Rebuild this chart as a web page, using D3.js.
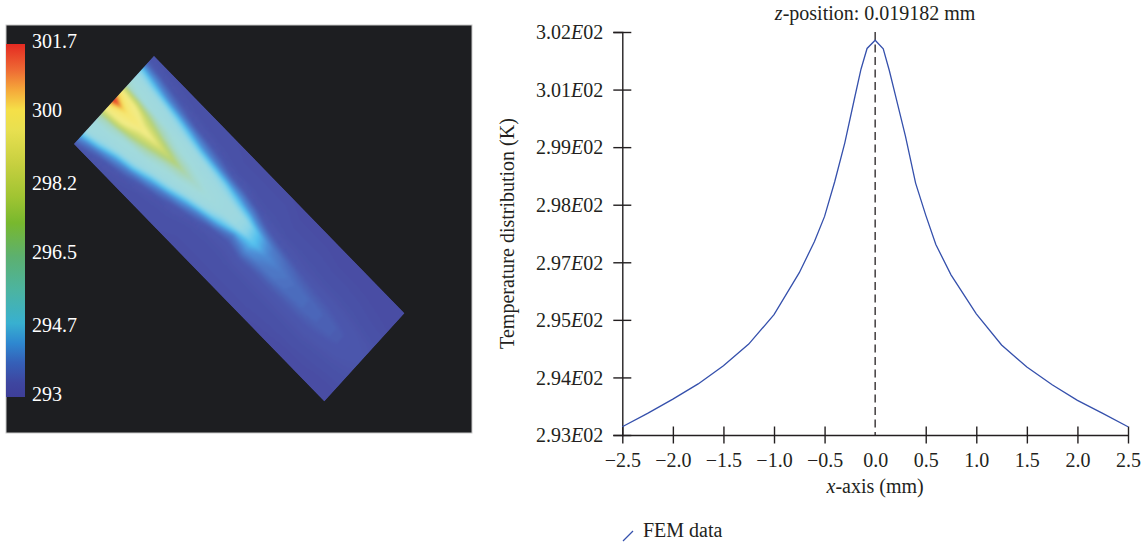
<!DOCTYPE html>
<meta charset="utf-8">
<body style="margin:0;background:#fff;">
<svg width="1146" height="544"></svg>
<script src="https://d3js.org/d3.v7.min.js"></script>
<script>

// ---------- line chart data (FEM profile along x at fixed z) ----------
var xPos  = [-2.5, -2.25, -2.0, -1.75, -1.5, -1.25, -1.0, -0.75, -0.6, -0.5, -0.4, -0.3, -0.2, -0.14, -0.08, 0,
             0.08, 0.14, 0.2, 0.3, 0.4, 0.5, 0.6, 0.75, 1.0, 1.25, 1.5, 1.75, 2.0, 2.25, 2.5];
var tempK = [292.99, 293.30, 293.63, 293.98, 294.40, 294.90, 295.58, 296.55, 297.27, 297.85, 298.65, 299.55, 300.62, 301.25, 301.73, 301.92,
             301.72, 301.22, 300.65, 299.70, 298.62, 297.88, 297.20, 296.50, 295.60, 294.88, 294.37, 293.96, 293.60, 293.30, 292.99];
var xTicks = [-2.5, -2.0, -1.5, -1.0, -0.5, 0, 0.5, 1.0, 1.5, 2.0, 2.5];
var yTicks = [292.8, 294.13, 295.46, 296.79, 298.12, 299.45, 300.78, 302.11];
var yTickLabels = ["2.93", "2.94", "2.95", "2.97", "2.98", "2.99", "3.01", "3.02"];
var zPosition = "0.019182";

// ---------- colour bar ----------
var barTicks  = [293, 294.7, 296.5, 298.2, 300, 301.7];
var barStops  = [293.0, 293.35, 293.85, 294.33, 294.82, 295.64, 296.45, 297.29, 297.93, 298.77, 299.58, 300.07, 300.57, 301.06, 301.7];
var barColors = ["#3e3e98", "#3e46a0", "#3560b8", "#2e88d0", "#38b0d0", "#4cb4a0", "#5cb070", "#78b82e",
                 "#a0c432", "#c8d040", "#e8e050", "#f5e048", "#f5a83a", "#ee6a34", "#e42a22"];

// ---------- heat map (rendered look) ----------
var heatStops  = [293.2, 293.7, 294.2, 294.45, 294.75, 295.0, 295.5, 296.2, 297.0, 298.0, 299.0, 300.0, 300.6, 301.0, 301.7];
var heatColors = ["#4a4ea4", "#4b58ae", "#4f90d8", "#52c0ee", "#8ad4e8", "#9ed8e0", "#a2dadc", "#a8d6bc",
                  "#b4d27a", "#d2dc6e", "#f2ec88", "#f6e670", "#f4d050", "#ee7a38", "#e02424"];
// rows: along the sample from the heated edge (every 20 px), columns: across (13 samples)
var heatGrid = [
  [293.45, 293.8, 294.7, 295.3, 296.0, 300.0, 301.7, 299.6, 296.5, 295.3, 295.2, 294.3, 293.65],
  [293.4, 293.7, 294.4, 295.2, 295.6, 299.0, 300.0, 299.0, 296.0, 295.3, 294.8, 293.9, 293.45],
  [293.35, 293.55, 294.1, 295.05, 295.4, 297.4, 299.4, 297.6, 295.6, 295.2, 294.3, 293.65, 293.4],
  [293.3, 293.45, 293.9, 294.8, 295.3, 296.4, 298.6, 296.6, 295.4, 294.9, 294.0, 293.5, 293.35],
  [293.3, 293.4, 293.7, 294.5, 295.3, 295.7, 297.4, 295.8, 295.25, 294.4, 293.7, 293.4, 293.3],
  [293.3, 293.35, 293.6, 294.2, 295.1, 295.5, 296.5, 295.5, 294.9, 294.0, 293.5, 293.35, 293.3],
  [293.3, 293.3, 293.5, 294.0, 294.9, 295.3, 295.8, 295.3, 294.4, 293.7, 293.45, 293.3, 293.3],
  [293.25, 293.3, 293.4, 293.8, 294.7, 295.2, 295.4, 294.9, 294.0, 293.5, 293.35, 293.3, 293.25],
  [293.25, 293.3, 293.4, 293.7, 294.4, 295.1, 295.1, 294.5, 293.7, 293.45, 293.35, 293.3, 293.25],
  [293.25, 293.3, 293.35, 293.5, 294.1, 294.9, 294.9, 294.0, 293.6, 293.45, 293.35, 293.3, 293.25],
  [293.25, 293.3, 293.35, 293.45, 293.75, 294.4, 294.5, 294.2, 293.75, 293.5, 293.35, 293.3, 293.25],
  [293.2, 293.25, 293.3, 293.4, 293.6, 294.0, 294.15, 294.0, 293.7, 293.5, 293.35, 293.3, 293.25],
  [293.2, 293.25, 293.3, 293.4, 293.55, 293.85, 294.0, 293.95, 293.7, 293.5, 293.35, 293.3, 293.25],
  [293.2, 293.25, 293.3, 293.38, 293.5, 293.75, 293.9, 293.88, 293.7, 293.5, 293.35, 293.28, 293.22],
  [293.2, 293.22, 293.28, 293.35, 293.48, 293.7, 293.85, 293.85, 293.7, 293.5, 293.35, 293.27, 293.2],
  [293.2, 293.22, 293.28, 293.35, 293.48, 293.68, 293.8, 293.8, 293.68, 293.5, 293.35, 293.25, 293.2],
  [293.2, 293.22, 293.27, 293.33, 293.45, 293.62, 293.75, 293.75, 293.62, 293.45, 293.32, 293.25, 293.2],
  [293.2, 293.2, 293.25, 293.3, 293.4, 293.55, 293.65, 293.65, 293.55, 293.42, 293.3, 293.22, 293.2],
  [293.2, 293.2, 293.22, 293.28, 293.35, 293.48, 293.55, 293.55, 293.48, 293.38, 293.28, 293.22, 293.2]
];

var serif = "'Liberation Serif', 'DejaVu Serif', serif";
var svg = d3.select("svg");
var defs = svg.append("defs");

// ================= left panel =================
var panel = svg.append("g");
panel.append("rect")
     .attr("x", 6).attr("y", 25).attr("width", 466).attr("height", 408)
     .attr("fill", "#1d1e21")
     .attr("stroke", "#c9c9c9").attr("stroke-width", 1);

// colour bar
var barY = d3.scaleLinear().domain([293, 301.7]).range([397, 44]);
var grad = defs.append("linearGradient").attr("id", "barGrad")
               .attr("x1", 0).attr("y1", 1).attr("x2", 0).attr("y2", 0);
barStops.forEach(function(v, i) {
  grad.append("stop")
      .attr("offset", (v - 293) / (301.7 - 293))
      .attr("stop-color", barColors[i]);
});
panel.append("rect")
     .attr("x", 6).attr("y", barY(301.7)).attr("width", 19)
     .attr("height", barY(293) - barY(301.7))
     .attr("fill", "url(#barGrad)");
panel.selectAll(".barlab").data(barTicks).enter().append("text")
     .attr("x", 32).attr("y", function(d) { return barY(d) - 3; })
     .attr("dy", "0.35em")
     .attr("fill", "#fff")
     .style("font-family", serif).style("font-size", "20px")
     .text(function(d) { return d; });

// heat map on the tilted sample
var nCols = heatGrid[0].length, nRows = heatGrid.length;
var sampleLen = 360, sampleWid = 119;
var heatColor = d3.scaleLinear().domain(heatStops).range(heatColors).clamp(true);
var alongScale  = d3.scaleLinear().domain([0.5, nRows - 0.5]).range([0, sampleLen]);
var acrossScale = d3.scaleLinear().domain([0.5, nCols - 0.5]).range([0, sampleWid]);

defs.append("clipPath").attr("id", "sampleClip")
    .append("rect").attr("width", sampleLen).attr("height", sampleWid);
defs.append("filter").attr("id", "soft")
    .attr("x", "-10%").attr("y", "-10%").attr("width", "120%").attr("height", "120%")
    .append("feGaussianBlur").attr("stdDeviation", 1.6);

var sample = panel.append("g")
                  .attr("transform", "matrix(0.6953,0.7147,-0.6723,0.7395,154,56)");
var clipped = sample.append("g").attr("clip-path", "url(#sampleClip)");
clipped.append("rect").attr("width", sampleLen).attr("height", sampleWid)
       .attr("fill", heatColor(293.2));

var flat = [];
heatGrid.forEach(function(row) { row.forEach(function(v) { flat.push(v); }); });
var contours = d3.contours().size([nCols, nRows])
                 .thresholds(d3.range(293.2, 301.75, 0.05))(flat);
var proj = d3.geoTransform({
  point: function(x, y) { this.stream.point(alongScale(y), acrossScale(x)); }
});
var heatPath = d3.geoPath(proj);
clipped.append("g").attr("filter", "url(#soft)")
       .selectAll("path").data(contours).enter().append("path")
       .attr("d", heatPath)
       .attr("fill", function(d) { return heatColor(d.value + 0.025); });

// ================= right chart =================
var x = d3.scaleLinear().domain([-2.5, 2.5]).range([622.3, 1128]);
var y = d3.scaleLinear().domain([yTicks[0], yTicks[yTicks.length - 1]]).range([435, 32]);
var ink = "#231f20";

var yAxis = svg.append("g").attr("transform", "translate(" + x(-2.5) + ",0)")
  .call(d3.axisLeft(y).tickValues(yTicks).tickSizeOuter(0).tickSize(9).tickPadding(19));
yAxis.select(".domain").attr("stroke", ink).attr("stroke-width", 1.4);
yAxis.selectAll(".tick line").attr("x1", -9).attr("x2", 9).attr("stroke", ink).attr("stroke-width", 1.4);
yAxis.selectAll(".tick text").remove();
yAxis.selectAll(".tick").append("text")
     .attr("x", -19).attr("dy", "0.34em").attr("text-anchor", "end")
     .attr("fill", ink)
     .style("font-family", serif).style("font-size", "20px")
     .each(function(d, i) {
       var t = d3.select(this);
       t.append("tspan").text(yTickLabels[i]);
       t.append("tspan").style("font-style", "italic").text("E");
       t.append("tspan").text("02");
     });

var xAxis = svg.append("g").attr("transform", "translate(0," + y(yTicks[0]) + ")")
  .call(d3.axisBottom(x).tickValues(xTicks).tickSizeOuter(0).tickFormat(d3.format(".1f")));
xAxis.select(".domain").attr("stroke", ink).attr("stroke-width", 1.4);
xAxis.selectAll(".tick line")
     .attr("y1", -8.5).attr("y2", 8.5).attr("stroke", ink).attr("stroke-width", 1.4)
     .attr("display", function(d) { return d === 0 ? "none" : null; });
xAxis.selectAll(".tick text")
     .attr("y", 32).attr("dy", null).attr("fill", ink)
     .style("font-family", serif).style("font-size", "20px");

// dashed marker at x = 0
svg.append("line")
   .attr("x1", x(0)).attr("x2", x(0))
   .attr("y1", y(yTicks[yTicks.length - 1])).attr("y2", y(yTicks[0]))
   .attr("stroke", ink).attr("stroke-width", 1.3)
   .attr("stroke-dasharray", "8,4.5");

// FEM curve
var line = d3.line()
  .x(function(d, i) { return x(xPos[i]); })
  .y(function(d) { return y(d); });
svg.append("path").datum(tempK)
   .attr("d", line)
   .attr("fill", "none").attr("stroke", "#3550ac").attr("stroke-width", 1.3);

// titles
var title = svg.append("text")
   .attr("x", x(0)).attr("y", 20).attr("text-anchor", "middle")
   .attr("fill", ink)
   .style("font-family", serif).style("font-size", "20px");
title.append("tspan").style("font-style", "italic").text("z");
title.append("tspan").text("-position: " + zPosition + " mm");

var xLab = svg.append("text")
   .attr("x", x(0)).attr("y", 493).attr("text-anchor", "middle")
   .attr("fill", ink)
   .style("font-family", serif).style("font-size", "20px");
xLab.append("tspan").style("font-style", "italic").text("x");
xLab.append("tspan").text("-axis (mm)");

svg.append("text")
   .attr("transform", "translate(514," + (y(yTicks[0]) + y(yTicks[yTicks.length - 1])) / 2 + ") rotate(-90)")
   .attr("text-anchor", "middle")
   .attr("fill", ink)
   .style("font-family", serif).style("font-size", "20px")
   .text("Temperature distribution (K)");

// legend
var legend = svg.append("g").attr("transform", "translate(623,530)");
legend.append("line")
      .attr("x1", 0).attr("y1", 11).attr("x2", 10).attr("y2", 1)
      .attr("stroke", "#3550ac").attr("stroke-width", 1.3);
legend.append("text")
      .attr("x", 20).attr("y", 7)
      .attr("fill", ink)
      .style("font-family", serif).style("font-size", "20px")
      .text("FEM data");

</script>
</body>
